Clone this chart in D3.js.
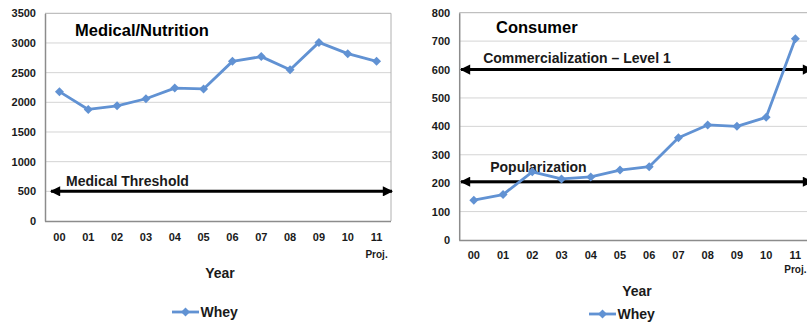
<!DOCTYPE html>
<html>
<head>
<meta charset="utf-8">
<script src="https://cdn.jsdelivr.net/npm/d3@7"></script>
<style>
  html, body { margin: 0; padding: 0; background: #fff; }
  svg { display: block; font-family: "Liberation Sans", Arial, sans-serif; }
</style>
</head>
<body>
<svg id="chart" width="807" height="322"></svg>
<script>
// ---- data ----
const years = ["00", "01", "02", "03", "04", "05", "06", "07", "08", "09", "10", "11"];
const medicalWhey = [2180, 1880, 1940, 2060, 2240, 2225, 2690, 2770, 2550, 3010, 2820, 2690];
const consumerWhey = [140, 160, 240, 215, 222, 246, 258, 360, 405, 400, 432, 708];
const medicalTicks = [0, 500, 1000, 1500, 2000, 2500, 3000, 3500];
const consumerTicks = [0, 100, 200, 300, 400, 500, 600, 700, 800];
const medicalLevels = ["Medical Threshold"];
const medicalLevelValues = [500];
const consumerLevels = ["Commercialization \u2013 Level 1", "Popularization"];
const consumerLevelValues = [600, 205];
const seriesName = "Whey";
const projLabel = "Proj.";

// ---- layout ----
const svg = d3.select("#chart");
const blue = "#6192d3";
const textColor = "#1a1a1a";

const defs = svg.append("defs");
function marker(id, orient) {
  defs.append("marker").attr("id", id)
    .attr("viewBox", "0 0 10 10").attr("refX", 9).attr("refY", 5)
    .attr("markerWidth", 3.8).attr("markerHeight", 3.4)
    .attr("markerUnits", "strokeWidth")
    .attr("orient", orient)
    .append("path").attr("d", "M0,0 L10,5 L0,10 Z").attr("fill", "#000");
}
marker("arrowEnd", "auto");
marker("arrowStart", "auto-start-reverse");

const diamondPath = "M0,-4.5L4.5,0L0,4.5L-4.5,0Z";

function drawChart(cfg) {
  const g = svg.append("g");
  const x = d3.scaleBand().domain(years).range([cfg.x0, cfg.x1]);
  const y = d3.scaleLinear().domain([0, cfg.ticks[cfg.ticks.length - 1]]).range([cfg.y0, cfg.y1]);

  // gridlines
  g.append("g").selectAll("line").data(cfg.ticks.slice(1, -1)).join("line")
    .attr("x1", cfg.x0).attr("x2", cfg.x1)
    .attr("y1", d => y(d)).attr("y2", d => y(d))
    .attr("stroke", "#d4d4d4").attr("stroke-width", 1);

  // frame
  g.append("line").attr("x1", cfg.x0).attr("x2", cfg.x1).attr("y1", y(cfg.ticks[cfg.ticks.length - 1])).attr("y2", y(cfg.ticks[cfg.ticks.length - 1]))
    .attr("stroke", "#b0b0b0").attr("stroke-width", 1);
  g.append("line").attr("x1", cfg.x1).attr("x2", cfg.x1).attr("y1", cfg.y0).attr("y2", cfg.y1)
    .attr("stroke", "#b0b0b0").attr("stroke-width", 1);

  // y axis
  const yAxis = d3.axisLeft(y).tickValues(cfg.ticks).tickSize(0).tickPadding(9).tickFormat(d3.format("d"));
  const ya = g.append("g").attr("transform", `translate(${cfg.x0},0)`).call(yAxis);
  ya.select(".domain").attr("stroke", "#8c8c8c").attr("stroke-width", 1.5);
  ya.selectAll("text").attr("font-size", "11px").attr("font-weight", "bold").attr("fill", textColor);

  // x axis
  const xAxis = d3.axisBottom(x).tickSize(0).tickPadding(cfg.xPad);
  const xa = g.append("g").attr("transform", `translate(0,${cfg.y0})`).call(xAxis);
  xa.select(".domain").attr("d", `M${cfg.x0},0.5H${cfg.x1}`).attr("stroke", "#8c8c8c").attr("stroke-width", 1.5);
  xa.selectAll("text").attr("font-size", "11px").attr("font-weight", "bold").attr("fill", textColor);

  // Proj. label under last year
  g.append("text").attr("x", x(years[years.length - 1]) + x.bandwidth() / 2).attr("y", cfg.projY)
    .attr("text-anchor", "middle").attr("font-size", "10px").attr("font-weight", "bold").attr("fill", textColor)
    .text(projLabel);

  // x title
  g.append("text").attr("x", cfg.yearX).attr("y", cfg.yearY).attr("text-anchor", "middle")
    .attr("font-size", "14px").attr("font-weight", "bold").attr("fill", textColor).text("Year");

  // chart title
  g.append("text").attr("x", cfg.titleX).attr("y", cfg.titleY).attr("dominant-baseline", "central")
    .attr("font-size", "16.5px").attr("font-weight", "bold").attr("fill", "#000").text(cfg.title);

  // level arrows
  cfg.levels.forEach((lab, i) => {
    const v = cfg.levelValues[i];
    g.append("line").attr("x1", cfg.arrowX0).attr("x2", cfg.arrowX1)
      .attr("y1", y(v)).attr("y2", y(v))
      .attr("stroke", "#000").attr("stroke-width", 3)
      .attr("marker-start", "url(#arrowStart)").attr("marker-end", "url(#arrowEnd)");
    g.append("text").attr("x", cfg.x0 + cfg.labelDx[i]).attr("y", y(v) - cfg.labelDy[i])
      .attr("dominant-baseline", "central")
      .attr("font-size", "14px").attr("font-weight", "bold").attr("fill", textColor).text(lab);
  });

  // series line
  const cx = d => x(d) + x.bandwidth() / 2;
  const line = d3.line().x((d, i) => cx(years[i])).y(d => y(d));
  g.append("path").datum(cfg.values).attr("d", line)
    .attr("fill", "none").attr("stroke", blue).attr("stroke-width", 2.8).attr("stroke-linejoin", "round");
  g.append("g").selectAll("path").data(cfg.values).join("path")
    .attr("d", diamondPath)
    .attr("transform", (d, i) => `translate(${cx(years[i])},${y(d)})`)
    .attr("fill", blue);

  // legend
  const lg = g.append("g").attr("transform", `translate(${cfg.legX},${cfg.legY})`);
  lg.append("line").attr("x1", 0).attr("x2", 27).attr("y1", 0).attr("y2", 0)
    .attr("stroke", blue).attr("stroke-width", 2.8);
  lg.append("path").attr("d", diamondPath).attr("transform", "translate(13.5,0)").attr("fill", blue);
  lg.append("text").attr("x", 28.5).attr("y", 0).attr("dominant-baseline", "central")
    .attr("font-size", "14px").attr("font-weight", "bold").attr("fill", textColor).text(seriesName);
}

drawChart({
  x0: 45, x1: 391, y0: 221, y1: 13.3,
  ticks: medicalTicks, values: medicalWhey,
  title: "Medical/Nutrition", titleX: 75, titleY: 30,
  levels: medicalLevels, levelValues: medicalLevelValues,
  labelDx: [21], labelDy: [10],
  arrowX0: 51, arrowX1: 392,
  xPad: 12, projY: 258, yearX: 220, yearY: 278,
  legX: 172, legY: 312
});

drawChart({
  x0: 459.2, x1: 810, y0: 240, y1: 12.7,
  ticks: consumerTicks, values: consumerWhey,
  title: "Consumer", titleX: 496, titleY: 27,
  levels: consumerLevels, levelValues: consumerLevelValues,
  labelDx: [24, 31], labelDy: [12, 15],
  arrowX0: 461, arrowX1: 812,
  xPad: 11, projY: 273, yearX: 637, yearY: 296,
  legX: 589, legY: 314
});
</script>
</body>
</html>
